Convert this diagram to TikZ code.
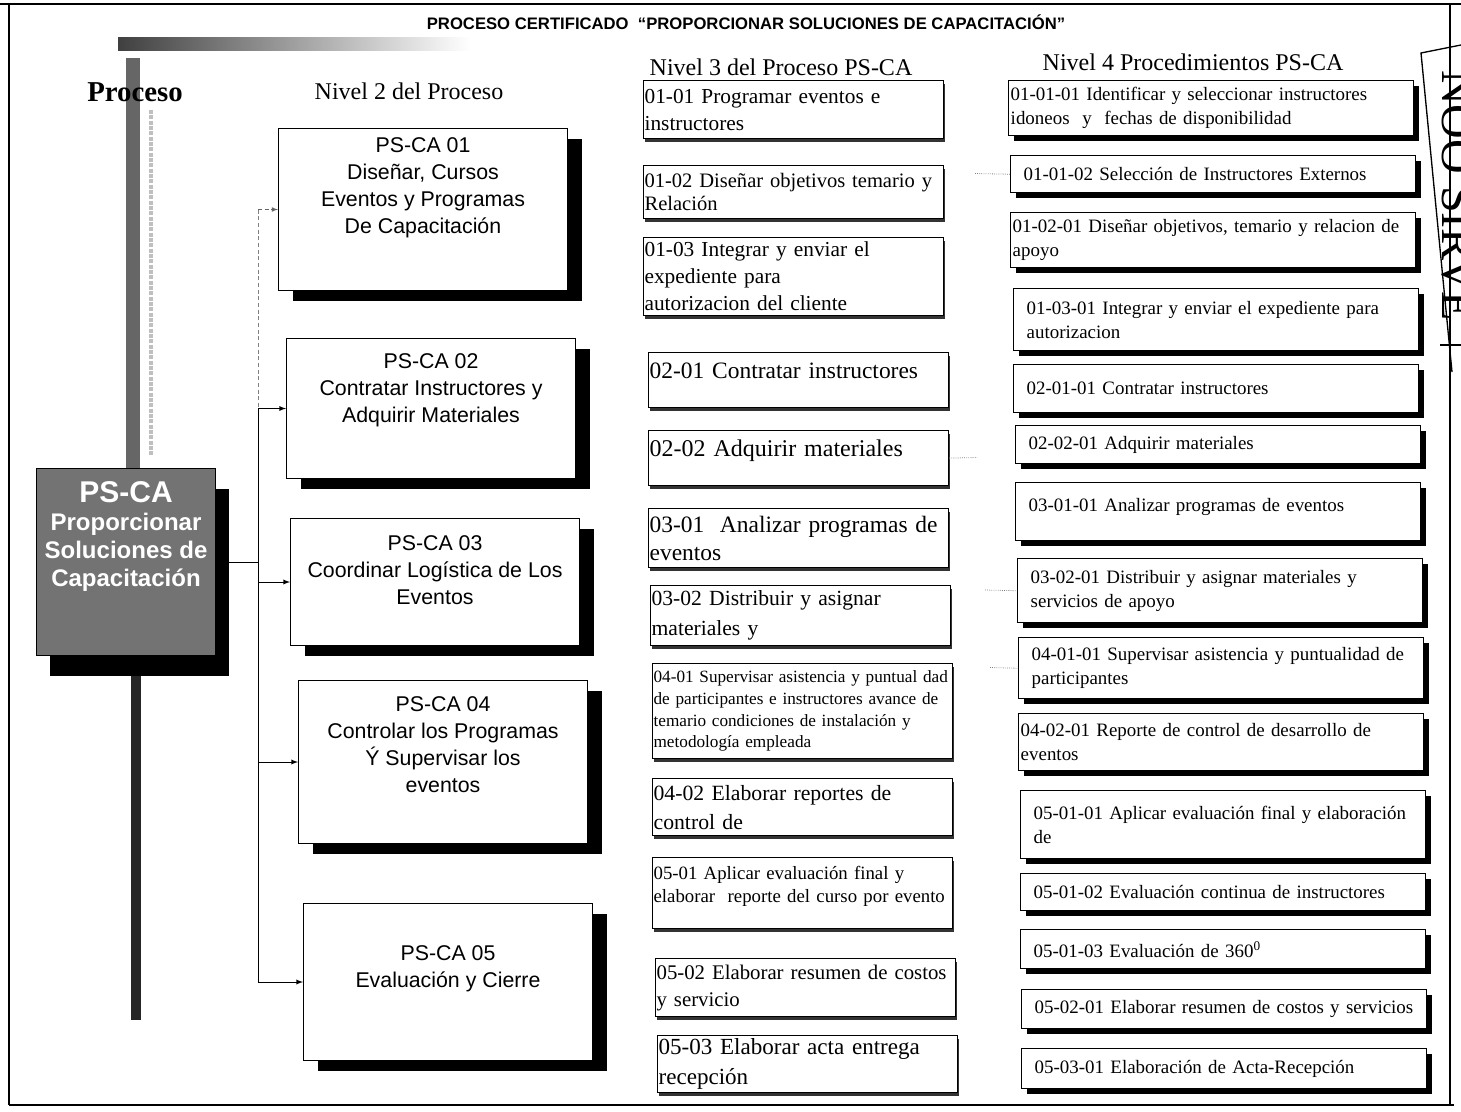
\documentclass[tikz,border=0pt]{standalone}
\usepackage{fontspec}
\setmainfont{Liberation Serif}
\setsansfont{Liberation Sans}
\usetikzlibrary{shadows}

\tikzset{
  hdr/.style={inner sep=0.75pt, font=\fontsize{18}{22}\selectfont},
  rootbox/.style={draw, line width=0.75pt, fill=black!55, text=white, anchor=north west, align=center,
    minimum width=134.25pt, minimum height=140.25pt, font=\sffamily\bfseries\fontsize{18}{21}\selectfont,
    general shadow={fill=black, shadow xshift=10pt, shadow yshift=-15pt}},
  twobox/.style={draw, line width=0.75pt, fill=white, anchor=north west, align=center, minimum width=216.75pt,
    font=\sffamily\fontsize{16}{20.25}\selectfont,
    general shadow={fill=black, shadow xshift=10.5pt, shadow yshift=-8pt}},
  threebox/.style={draw, line width=0.9pt, fill=white, anchor=north west, align=left, inner xsep=0.75pt, inner ysep=1pt,
    text width=223.5pt, font=\fontsize{16}{20.25}\selectfont,
    general shadow={fill=black!80, shadow xshift=1pt, shadow yshift=-2.25pt}},
  fourbox/.style={draw, line width=1.1pt, fill=white, anchor=north west, align=left, inner xsep=9.75pt, inner ysep=1pt,
    text width=284.25pt, font=\fontsize{14.2}{18}\selectfont,
    general shadow={fill=black, shadow xshift=3.75pt, shadow yshift=-3.75pt}},
  fourtight/.style={fourbox, inner xsep=1.5pt, text width=300.75pt},
  stub/.style={densely dotted, line width=0.6pt, black!50},
}

\begin{document}
\begin{tikzpicture}[x=0.75pt,y=0.75pt,yscale=-1,xscale=1]
\useasboundingbox (0,0) rectangle (1461,1111);

%Shape: Textured bars
\shade [left color=black!75, right color=white] (118,37) rectangle (470,50) ;
\fill [black!60] (126,58) rectangle (140,468) ;
\draw [black!25, densely dotted, line width=3pt] (151,110) -- (151,455) ;
\fill [black!85] (131,660) rectangle (141,1020) ;

% Text Node
\draw (746,22) node [inner sep=0.75pt, font=\sffamily\bfseries\fontsize{12.5}{15}\selectfont] (title) {PROCESO CERTIFICADO~~“PROPORCIONAR SOLUCIONES DE CAPACITACIÓN”};
% Text Node
\draw (135,92) node [inner sep=0.75pt, font=\bfseries\fontsize{21.6}{26}\selectfont] (proc) {Proceso};
% Text Node
\draw (409,91) node [hdr] (hdtwo) {Nivel 2 del Proceso};
% Text Node
\draw (781,67) node [hdr] (hdthree) {Nivel 3 del Proceso PS-CA};
% Text Node
\draw (1193,62) node [hdr] (hdfour) {Nivel 4 Procedimientos PS-CA};

%Shape: Root box
\node [rootbox] (root) at (36,468) {{\fontsize{22.5}{26}\selectfont PS-CA}\\Proporcionar\\Soluciones de\\Capacitación\\[21pt]\mbox{}};

%Shape: Nivel 2 boxes
\node [twobox, minimum height=121.5pt] (l2a) at (278,128) {PS-CA 01\\Diseñar, Cursos\\Eventos y Programas\\De Capacitación\\[15pt]\mbox{}};
\node [twobox, minimum height=105pt] (l2b) at (286,338) {PS-CA 02\\Contratar Instructores y\\Adquirir Materiales\\[10.5pt]\mbox{}};
\node [twobox, minimum height=95.25pt] (l2c) at (290,518) {PS-CA 03\\Coordinar Logística de Los\\Eventos\\[-3pt]\mbox{}};
\node [twobox, minimum height=122.25pt] (l2d) at (298,680) {PS-CA 04\\Controlar los Programas\\Ý Supervisar los\\eventos\\[6pt]\mbox{}};
\node [twobox, minimum height=117.75pt] (l2e) at (303,903) {PS-CA 05\\Evaluación y Cierre\\[2.25pt]\mbox{}};

%Straight Lines
\coordinate (trunk) at (258,0);
\draw [line width=0.75pt] (root.east) -- (root.east -| trunk) ;
\draw [black!50, densely dashed, line width=0.6pt] (trunk |- l2a.west) -- (trunk |- l2b.west) ;
\draw [line width=0.75pt] (trunk |- l2b.west) -- (trunk |- l2e.west) ;
\draw [black!60, densely dashed, line width=0.6pt, -latex] (trunk |- l2a.west) -- (l2a.west) ;
\draw [line width=0.75pt, -latex] (trunk |- l2b.west) -- (l2b.west) ;
\draw [line width=0.75pt, -latex] (trunk |- l2c.west) -- (l2c.west) ;
\draw [line width=0.75pt, -latex] (trunk |- l2d.west) -- (l2d.west) ;
\draw [line width=0.75pt, -latex] (trunk |- l2e.west) -- (l2e.west) ;

%Shape: Nivel 3 boxes
\node [threebox, minimum height=43.5pt] (l3a) at (643,80) {01-01 Programar eventos e\\instructores};
\node [threebox, minimum height=39.75pt, font=\fontsize{15.4}{17.25}\selectfont] (l3b) at (643,165) {01-02 Diseñar objetivos temario y\\Relación};
\node [threebox, minimum height=58.5pt] (l3c) at (643,237) {01-03 Integrar y enviar el\\expediente para\\autorizacion del cliente};
\node [threebox, minimum height=41.25pt, font=\fontsize{17.6}{22}\selectfont] (l3d) at (648,352) {02-01 Contratar instructores\\[-8pt]\mbox{}};
\node [threebox, minimum height=41.25pt, font=\fontsize{18}{22}\selectfont] (l3e) at (648,430) {02-02 Adquirir materiales\\[-7pt]\mbox{}};
\node [threebox, minimum height=44.25pt, font=\fontsize{17.6}{21}\selectfont] (l3f) at (648,508) {03-01~ Analizar programas de\\eventos};
\node [threebox, minimum height=45pt, font=\fontsize{16.2}{22.5}\selectfont] (l3g) at (650,585) {03-02 Distribuir y asignar\\materiales y};
\node [threebox, minimum height=71.25pt, font=\fontsize{12.9}{16.3}\selectfont] (l3h) at (652,663) {04-01 Supervisar asistencia y puntual dad\\de participantes e instructores avance de\\temario condiciones de instalación y\\metodología empleada};
\node [threebox, minimum height=42.75pt, font=\fontsize{16.3}{21.75}\selectfont] (l3i) at (652,778) {04-02 Elaborar reportes de\\control de};
\node [threebox, minimum height=53.25pt, font=\fontsize{14.1}{17.25}\selectfont] (l3j) at (652,857) {05-01 Aplicar evaluación final y\\elaborar~ reporte del curso por evento\\[-3.75pt]\mbox{}};
\node [threebox, minimum height=43.5pt, font=\fontsize{15.6}{20.25}\selectfont] (l3k) at (655,958) {05-02 Elaborar resumen de costos\\y servicio};
\node [threebox, minimum height=42.75pt, font=\fontsize{17.3}{22.5}\selectfont] (l3l) at (657,1035) {05-03 Elaborar acta entrega\\recepción};

%Shape: Nivel 4 boxes
\node [fourtight, minimum height=41.25pt] (l4a) at (1008,80) {01-01-01 Identificar y seleccionar instructores\\idoneos~ y~ fechas de disponibilidad};
\node [fourbox, minimum height=27.75pt] (l4b) at (1010,155) {01-01-02 Selección de Instructores Externos};
\node [fourtight, minimum height=41.25pt] (l4c) at (1010,212) {01-02-01 Diseñar objetivos, temario y relacion de\\apoyo};
\node [fourbox, minimum height=46.5pt] (l4d) at (1013,288) {01-03-01 Integrar y enviar el expediente para\\autorizacion};
\node [fourbox, minimum height=36pt] (l4e) at (1013,364) {02-01-01 Contratar instructores};
\node [fourbox, minimum height=28.5pt] (l4f) at (1015,425) {02-02-01 Adquirir materiales};
\node [fourbox, minimum height=43.5pt] (l4g) at (1015,482) {03-01-01 Analizar programas de eventos\\[-7.5pt]\mbox{}};
\node [fourbox, minimum height=48pt] (l4h) at (1017,558) {03-02-01 Distribuir y asignar materiales y\\servicios de apoyo};
\node [fourbox, minimum height=45.75pt] (l4i) at (1018,637) {04-01-01 Supervisar asistencia y puntualidad de\\participantes};
\node [fourtight, minimum height=42.75pt] (l4j) at (1018,713) {04-02-01 Reporte de control de desarrollo de\\eventos};
\node [fourbox, minimum height=51pt] (l4k) at (1020,790) {05-01-01 Aplicar evaluación final y elaboración\\de};
\node [fourbox, minimum height=27.75pt] (l4l) at (1020,873) {05-01-02 Evaluación continua de instructores};
\node [fourbox, minimum height=29.25pt] (l4m) at (1020,929) {05-01-03 Evaluación de 360\textsuperscript{0}};
\node [fourbox, minimum height=29.25pt] (l4n) at (1021,989) {05-02-01 Elaborar resumen de costos y servicios};
\node [fourbox, minimum height=30pt] (l4o) at (1021,1048) {05-03-01 Elaboración de Acta-Recepción};

%Straight Lines
\coordinate (sb) at (975,173.5);
\coordinate (se) at (977,457.5);
\coordinate (sh) at (985,590);
\coordinate (si) at (990,667.5);
\draw [stub] (sb) -- (l4b.west) ;
\draw [stub] (l3e.east) -- (se) ;
\draw [stub] (sh) -- (l4h.west) ;
\draw [stub] (si) -- (l4i.west) ;

%Shape: Stamp
\draw [line width=1pt] (1461,45) -- (1421,53) -- (1452,372) ;
\draw [line width=1pt] (1440,345) -- (1461,345) ;
% Text Node
\draw (1441,70) node [rotate=-90, anchor=south west, inner sep=0pt, font=\fontsize{36}{36}\selectfont] (stamp) {NOO SIRVE};

%Straight Lines
\draw [line width=1.5pt] (0,4) -- (1461,4) ;
\draw [line width=1pt] (9,4) -- (9,1105) ;
\draw [line width=1.5pt] (9,1105) -- (1454,1105) ;
\draw [line width=1pt] (1450,4) -- (1450,1105) ;

\end{tikzpicture}
\end{document}
